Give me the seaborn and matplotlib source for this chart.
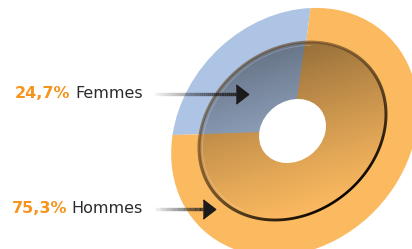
import numpy as np
import matplotlib.pyplot as plt
import seaborn as sns
from matplotlib.patches import Ellipse, Arc, PathPatch
from matplotlib.path import Path
from matplotlib.transforms import Affine2D
from matplotlib.collections import LineCollection

# données
groupes = ['Femmes', 'Hommes']
parts = [24.7, 75.3]
etiquettes = ['24,7%', '75,3%']

sns.set_style('white')
plt.rcParams['font.family'] = ['DejaVu Sans']

W, H = 412, 249
fig = plt.figure(figsize=(W / 100, H / 100), dpi=100)
ax = fig.add_axes([0, 0, 1, 1])

couleurs = ['#AEC4E4', '#FBB960']


def disque(cx, cy, a, b, tilt, start, z):
    # pie dans un repère unité, puis étiré/incliné pour l'effet perspective
    wedges, _ = ax.pie(parts, colors=couleurs, startangle=start, counterclock=True,
                       radius=1, center=(0, 0), frame=True,
                       wedgeprops=dict(linewidth=0))
    tr = Affine2D().scale(a, b).rotate_deg(tilt).translate(cx, cy) + ax.transData
    for w in wedges:
        w.set_transform(tr)
        w.set_zorder(z)
    return tr


# anneau extérieur
disque(294.5, H - 132, 134, 112.5, 46, 41.5, 1)

# face intérieure
cx_in, cy_in, a_in, b_in, tilt_in = 292.5, H - 131, 99.7, 82, 37.6
tr_in = disque(cx_in, cy_in, a_in, b_in, tilt_in, 50, 2)

# grille pour les dégradés
x0, x1 = cx_in - 110, cx_in + 110
y0, y1 = cy_in - 110, cy_in + 110
gx, gy = np.meshgrid(np.linspace(x0, x1, 440), np.linspace(y0, y1, 440))

# dégradé sombre sur la face intérieure
t = np.clip(((gx - 288) * 0.3 + ((H - gy) - 40)) / 185, 0, 1)
rgba = np.zeros(gx.shape + (4,))
rgba[..., 3] = 0.42 * (1 - t) ** 1.2
im = ax.imshow(rgba, extent=(x0, x1, y0, y1), origin='lower', zorder=3,
               interpolation='bilinear')
clip = Ellipse((cx_in, cy_in), 2 * a_in, 2 * b_in, angle=tilt_in,
               facecolor='none', edgecolor='none')
ax.add_patch(clip)
im.set_clip_path(clip)

# liseré clair
ax.add_patch(Arc((cx_in, cy_in), 2 * a_in - 7, 2 * b_in - 7, angle=tilt_in,
                 theta1=40, theta2=200, color='white', alpha=0.25, lw=0.6, zorder=4))

# bord sombre de la face (plus foncé en bas à droite) : image découpée par un anneau
ang = np.radians(np.linspace(0, 360, 181))
cercle = np.column_stack([np.cos(ang), np.sin(ang)])
ep = 0.032
verts = np.vstack([cercle * (1 + ep / 2), cercle[::-1] * (1 - ep / 2)])
codes = np.full(len(verts), Path.LINETO)
codes[0] = Path.MOVETO
codes[len(cercle)] = Path.MOVETO
anneau = PathPatch(Path(verts, codes), facecolor='none', edgecolor='none',
                   transform=tr_in)
ax.add_patch(anneau)

c, s = np.cos(np.radians(tilt_in)), np.sin(np.radians(tilt_in))
dx, dy = gx - cx_in, gy - cy_in
u = (dx * c + dy * s) / a_in
v = (-dx * s + dy * c) / b_in
phi = np.arctan2(v, u)
d = ((1 + np.cos(phi + np.pi / 2)) / 2) ** 1.6
clair = np.array([0.40, 0.28, 0.14])
fonce = np.array([0.04, 0.02, 0.0])
ring = np.zeros(gx.shape + (4,))
ring[..., :3] = clair * (1 - d[..., None]) + fonce * d[..., None]
ring[..., 3] = 0.6 + 0.4 * d
im2 = ax.imshow(ring, extent=(x0, x1, y0, y1), origin='lower', zorder=5,
                interpolation='bilinear')
im2.set_clip_path(anneau)

# trou central
ax.add_patch(Ellipse((292.5, H - 131), 2 * 35.4, 2 * 29.9, angle=37,
                     facecolor='white', edgecolor='none', zorder=6))

ax.set_xlim(0, W)
ax.set_ylim(0, H)
ax.set_aspect('auto')
ax.axis('off')

# flèches et étiquettes
fleches = [(93.5, 236), (209, 203)]
bases = [151.3, 36.3]
tete = [(-0.65, -1), (0.65, 0), (-0.65, 1)]
for (ya, xb), yb, nom, pct in zip(fleches, bases, groupes, etiquettes):
    y = H - ya
    xs = np.linspace(155, xb, 40)
    fseg = [[(xs[i], y), (xs[i + 1], y)] for i in range(len(xs) - 1)]
    alph = np.linspace(0.05, 0.9, len(fseg))
    fcol = [(0.1, 0.09, 0.09, a) for a in alph]
    ax.add_collection(LineCollection(fseg, colors=fcol, linewidths=2.4,
                                     capstyle='butt', zorder=7))
    ax.plot([xb + 6], [y], marker=tete, ms=13.7, color='#1C1A1A', ls='none', zorder=8)

    t_nom = ax.text(142.8, yb, nom, ha='right', va='baseline', fontsize=11.5,
                    color='#2B2B2B')
    fig.canvas.draw()
    bb = t_nom.get_window_extent()
    x_pct = ax.transData.inverted().transform((bb.x0 - 4.5, 0))[0]
    ax.text(x_pct, yb, pct, ha='right', va='baseline', fontsize=11.5,
            fontweight='bold', color='#F7941D')

ax.set_xlim(0, W)
ax.set_ylim(0, H)

fig.savefig('out.png', dpi=100)
